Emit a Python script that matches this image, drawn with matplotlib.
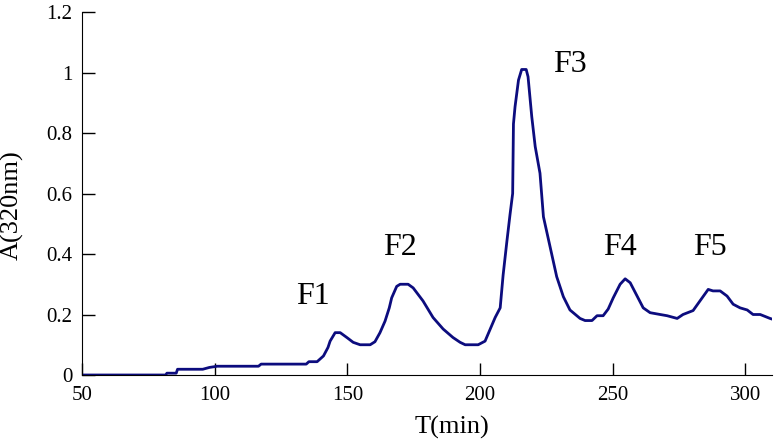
import numpy as np
import matplotlib.pyplot as plt

plt.rcParams['font.family'] = ['Liberation Serif', 'DejaVu Serif']

# elution profile
t = [50, 81.5, 82, 85.5, 86, 95.5, 98, 101, 116.5, 117.5, 134.5, 135.5, 138.6,
     141, 142.7, 143.5, 145.4, 147.3, 149.8, 152.2, 154.8, 158.6, 160.4, 162.3,
     164.2, 165.8, 166.7, 168.6, 169.9, 172.9, 174.8, 178.5, 182.3, 186.1,
     189.8, 192.5, 194.4, 199.3, 201.9, 205.7, 207.6, 208.7, 210.1, 211.3,
     212.3, 212.6, 213.2, 214.5, 215.7, 217.4, 218.1, 219.5, 220.8, 222.6,
     223.9, 226.4, 228.9, 231.4, 233.9, 237.7, 239.6, 242.2, 244.1, 246.4,
     248.3, 250.2, 252.8, 254.7, 256.6, 259.2, 261.5, 264.1, 267.9, 270.5,
     274.3, 276.5, 280.3, 282.9, 286, 287.8, 290.5, 293.1, 295.4, 298,
     300.7, 302.9, 305.6, 309.3, 310]
absorb = [0, 0, 0.006, 0.006, 0.019, 0.019, 0.025, 0.029, 0.029, 0.036, 0.036,
          0.044, 0.044, 0.063, 0.091, 0.112, 0.14, 0.14, 0.124, 0.108, 0.1,
          0.1, 0.11, 0.14, 0.178, 0.222, 0.255, 0.293, 0.3, 0.3, 0.288, 0.245,
          0.19, 0.152, 0.124, 0.108, 0.1, 0.1, 0.112, 0.19, 0.222, 0.33, 0.44,
          0.53, 0.6, 0.83, 0.887, 0.975, 1.01, 1.01, 0.986, 0.854, 0.755,
          0.667, 0.523, 0.424, 0.325, 0.259, 0.215, 0.187, 0.18, 0.18, 0.196,
          0.196, 0.218, 0.255, 0.3, 0.318, 0.305, 0.261, 0.222, 0.206, 0.2,
          0.196, 0.187, 0.2, 0.213, 0.245, 0.283, 0.278, 0.278, 0.261, 0.234,
          0.222, 0.215, 0.2, 0.2, 0.187, 0.185]

peak_names = ['F1', 'F2', 'F3', 'F4', 'F5']
peak_x = [136.9, 169.7, 234, 252.6, 286.7]
peak_y = [0.235, 0.397, 1.002, 0.397, 0.397]

fig = plt.figure(figsize=(7.76, 4.45), dpi=100)
ax = fig.add_axes([0.1057, 0.1573, 0.889, 0.8157])

ax.plot(t, absorb, color='#0c0c7e', linewidth=2.0)

for name, px, py in zip(peak_names, peak_x, peak_y):
    ax.text(px, py, name, fontsize=23, ha='center', va='baseline')

ax.set_xlim(50, 310)
ax.set_ylim(0, 1.2)
ax.set_xticks([50, 100, 150, 200, 250, 300])
ax.set_yticks([0, 0.2, 0.4, 0.6, 0.8, 1.0, 1.2])
ax.set_yticklabels(['0', '0.2', '0.4', '0.6', '0.8', '1', '1.2'])
ax.spines['top'].set_visible(False)
ax.spines['right'].set_visible(False)
ax.tick_params(direction='in', length=9, width=1, labelsize=15)
ax.tick_params(axis='x', pad=8)
ax.tick_params(axis='y', pad=7)

ax.set_xlabel('T(min)', fontsize=19)
ax.xaxis.set_label_coords(0.5355, -0.112)
ax.set_ylabel('A(320nm)', fontsize=19)
ax.yaxis.set_label_coords(-0.085, 0.468)

fig.savefig('out.png', dpi=100)
